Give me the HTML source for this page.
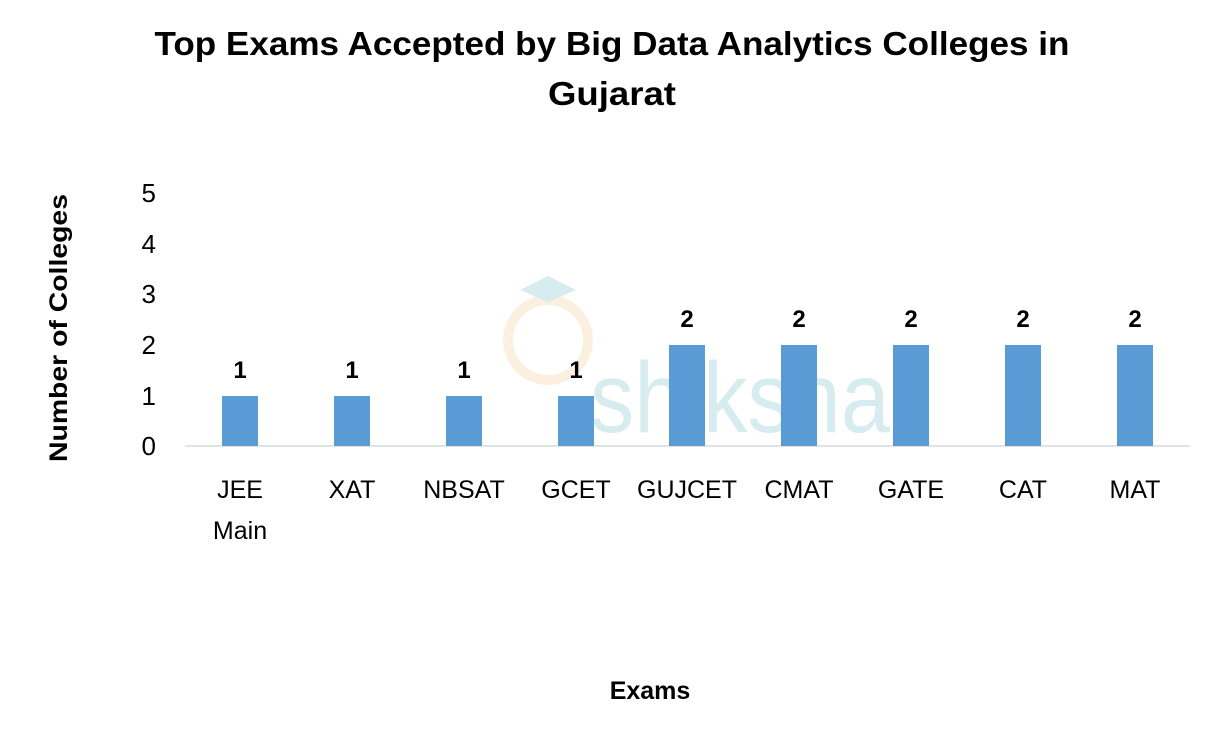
<!DOCTYPE html>
<html><head><meta charset="utf-8"><style>body{margin:0;background:#fff}svg{display:block}</style></head>
<body>
<svg width="1224" height="739" xmlns="http://www.w3.org/2000/svg" font-family="'Liberation Sans', sans-serif">
<rect width="1224" height="739" fill="#fff"/>
<text x="612" y="55" font-size="33" font-weight="bold" text-anchor="middle" textLength="915" lengthAdjust="spacingAndGlyphs">Top Exams Accepted by Big Data Analytics Colleges in</text>
<text x="612" y="105" font-size="33" font-weight="bold" text-anchor="middle" textLength="128" lengthAdjust="spacingAndGlyphs">Gujarat</text>
<!-- watermark -->
<g opacity="0.35">
<circle cx="548" cy="340" r="40" fill="none" stroke="#f6d7a8" stroke-width="10"/>
<path d="M520 290 L548 276 L576 290 L548 302 Z" fill="#8cc9cf"/>
<text x="590" y="432" font-size="100" fill="#8cc9cf" textLength="300" lengthAdjust="spacingAndGlyphs">shiksha</text>
</g>
<g font-size="26" fill="#000" text-anchor="end">
<text x="156" y="455">0</text><text x="156" y="405">1</text><text x="156" y="354">2</text>
<text x="156" y="303">3</text><text x="156" y="253">4</text><text x="156" y="202">5</text>
</g>
<line x1="185" y1="446" x2="1190" y2="446" stroke="#d9d9d9" stroke-width="1.5"/>
<g fill="#5b9bd5">
<rect x="222" y="396" width="36" height="50"/>
<rect x="334" y="396" width="36" height="50"/>
<rect x="446" y="396" width="36" height="50"/>
<rect x="558" y="396" width="36" height="50"/>
<rect x="669" y="345" width="36" height="101"/>
<rect x="781" y="345" width="36" height="101"/>
<rect x="893" y="345" width="36" height="101"/>
<rect x="1005" y="345" width="36" height="101"/>
<rect x="1117" y="345" width="36" height="101"/>
</g>
<g font-size="24" font-weight="bold" text-anchor="middle">
<text x="240" y="378">1</text><text x="352" y="378">1</text><text x="464" y="378">1</text><text x="576" y="378">1</text>
<text x="687" y="327">2</text><text x="799" y="327">2</text><text x="911" y="327">2</text><text x="1023" y="327">2</text><text x="1135" y="327">2</text>
</g>
<g font-size="25" text-anchor="middle">
<text x="240" y="498">JEE</text><text x="240" y="539">Main</text>
<text x="352" y="498">XAT</text><text x="464" y="498">NBSAT</text><text x="576" y="498">GCET</text>
<text x="687" y="498">GUJCET</text><text x="799" y="498">CMAT</text><text x="911" y="498">GATE</text>
<text x="1023" y="498">CAT</text><text x="1135" y="498">MAT</text>
</g>
<text x="650" y="699" font-size="25" font-weight="bold" text-anchor="middle">Exams</text>
<text transform="translate(67,328) rotate(-90)" font-size="25" font-weight="bold" text-anchor="middle" textLength="268" lengthAdjust="spacingAndGlyphs">Number of Colleges</text>
</svg>
</body></html>
